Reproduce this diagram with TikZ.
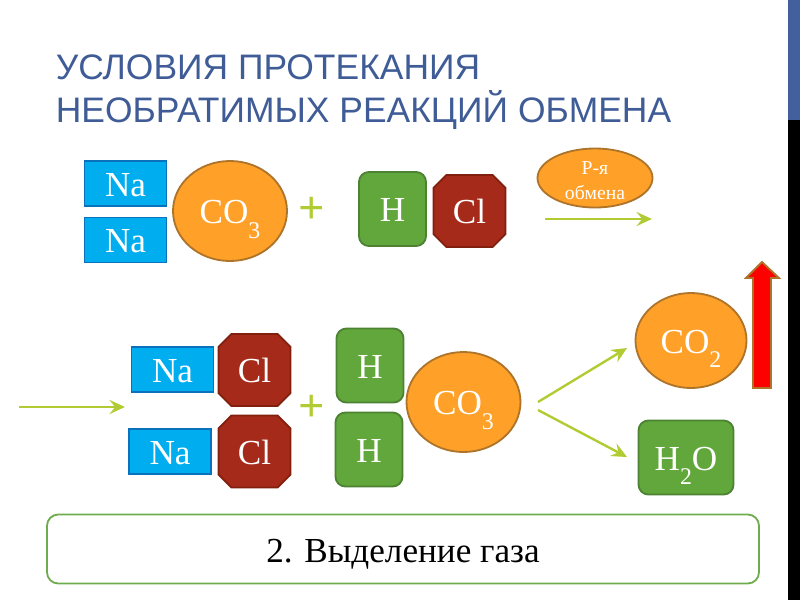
\documentclass[tikz,border=0pt]{standalone}
\usepackage{fontspec}
\setmainfont{Liberation Serif}
\newfontfamily\titlefont{Liberation Sans}
\usetikzlibrary{arrows.meta,shapes.geometric,shapes.misc}
\definecolor{ink}{HTML}{3F5C97}
\definecolor{band}{HTML}{44609C}
\definecolor{sky}{HTML}{00AEEF}
\definecolor{skyline}{HTML}{0A72BC}
\definecolor{amber}{HTML}{FFA028}
\definecolor{amberline}{HTML}{AE742A}
\definecolor{leaf}{HTML}{62A73B}
\definecolor{leafline}{HTML}{4C8232}
\definecolor{brick}{HTML}{A52A1A}
\definecolor{brickline}{HTML}{82200F}
\definecolor{lime}{HTML}{B0CC32}
\definecolor{frame}{HTML}{6FAC4E}
\newcommand{\lowidx}[1]{\smash{\raisebox{-0.4em}{\fontsize{17}{17}\selectfont #1}}}

\tikzset{
  sz/.style 2 args={minimum width=#1*0.025cm,minimum height=#2*0.025cm},
  atom/.style={inner sep=0pt,text=white,font=\fontsize{25}{25}\selectfont,line width=1.3pt,
    text height=18.4pt,text depth=0pt},
  nabox/.style={atom,draw=skyline,fill=sky,rectangle,sz={82}{45}},
  acid/.style={atom,draw=amberline,fill=amber,ellipse,sz={114}{100}},
  hbox/.style={atom,draw=leafline,fill=leaf,rectangle,rounded corners=7pt},
  clbox/.style={atom,draw=brickline,fill=brick,chamfered rectangle,
    chamfered rectangle xsep=4.6pt,chamfered rectangle ysep=4.6pt,sz={72}{72}},
  flow/.style={->,lime,line width=1.7pt,>={Stealth[length=11pt,width=10pt,inset=4pt]}},
  plusmark/.style={inner sep=0pt,text=lime,font=\bfseries\fontsize{33}{33}\selectfont}
}

\begin{document}
\begin{tikzpicture}[x=0.025cm,y=-0.025cm]
  \useasboundingbox (0,0) rectangle (800,600);

  \fill[band] (788,0) rectangle (800,120);
  \fill[black] (788,120) rectangle (800,600);

  \node[anchor=north west,inner sep=0pt,align=left,text=ink,
    font=\titlefont\fontsize{25.2}{30.9}\selectfont] (title) at (55.5,54.5)
    {УСЛОВИЯ ПРОТЕКАНИЯ\\НЕОБРАТИМЫХ РЕАКЦИЙ ОБМЕНА};

  \node[nabox] (natop) at (125.5,183.5) {Na};
  \node[nabox] (nabot) at (125.5,240) {Na};
  \node[acid] (acid) at (230,211) {CO\lowidx{3}};
  \node[plusmark] (plustop) at (312,210) {+};
  \node[hbox,sz={67}{74}] (hyd) at (392.5,209) {H};
  \node[clbox] (chl) at (469.5,211) {Cl};

  \node[atom,draw=amberline,fill=amber,ellipse,sz={115}{59},align=center,inner sep=-7pt,
    text height=,text depth=,font=\fontsize{14}{17.8}\selectfont] (reac) at (595,178)
    {\rule{0pt}{12.5pt}Р-я\\обмена};
  \coordinate (flowa) at (545,219);
  \coordinate (flowb) at (652,219);
  \draw[flow] (flowa) -- (flowb);

  \coordinate (flowc) at (19,407);
  \coordinate (flowd) at (125,407);
  \draw[flow] (flowc) -- (flowd);

  \node[nabox] (naleft) at (172.5,369.5) {Na};
  \node[nabox] (naright) at (170,451.5) {Na};
  \node[clbox] (clleft) at (254.5,370) {Cl};
  \node[clbox] (clright) at (254.5,451.5) {Cl};
  \node[plusmark] (plusbot) at (312,408) {+};
  \node[hbox,sz={67}{74}] (hup) at (370,365.5) {H};
  \node[hbox,sz={67}{74}] (hdown) at (369,449.5) {H};
  \node[acid] (ion) at (463.5,402) {CO\lowidx{3}};

  \coordinate (gasa) at (538,402);
  \coordinate (gasb) at (627,348);
  \coordinate (wata) at (538,410);
  \coordinate (watb) at (627,457);
  \draw[flow] (gasa) -- (gasb);
  \draw[flow] (wata) -- (watb);

  \node[acid,sz={111}{95}] (gas) at (691,340.5) {CO\lowidx{2}};
  \node[hbox,sz={95}{74}] (water) at (686,457.5) {H\lowidx{2}O};

  \draw[draw=amberline,fill=red,line width=1.3pt,line join=miter]
    (762,262) -- (779,278) -- (771,278) -- (771,388)
    -- (753,388) -- (753,278) -- (746,278) -- cycle;

  \node[draw=frame,fill=white,line width=1.3pt,rounded corners=8pt,sz={712}{69},
    inner sep=0pt,text height=19.5pt,text depth=0pt,
    font=\fontsize{25}{25}\selectfont] (note) at (403,549)
    {2. Выделение газа};
\end{tikzpicture}
\end{document}
